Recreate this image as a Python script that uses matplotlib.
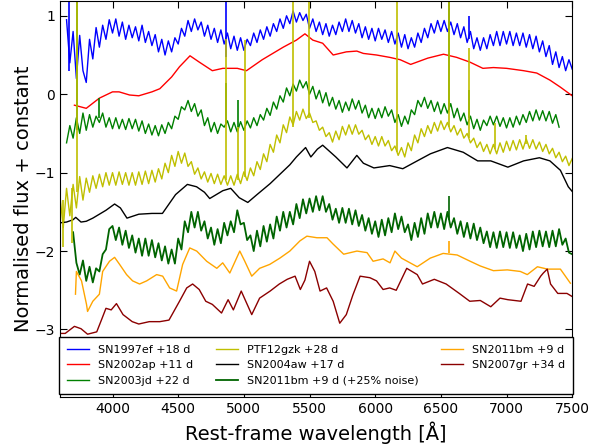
# Espectros de supernovas desplazados con una constante
import numpy as np
import matplotlib
matplotlib.use("Agg")
import matplotlib.pyplot as plt

# SN1997ef +18 d (malla de 25 A)
wl_97ef = np.arange(3650, 7501, 25)
flux_97ef = [0.95, 0.40, 0.80, 0.20, 0.75, 0.30, 0.15, 0.70, 0.45, 0.85,
             0.60, 0.88, 0.70, 0.95, 0.78, 0.96, 0.74, 0.92, 0.70, 0.88,
             0.72, 0.86, 0.68, 0.88, 0.66, 0.80, 0.62, 0.76, 0.54, 0.70,
             0.50, 0.68, 0.54, 0.72, 0.64, 0.84, 0.74, 0.94, 0.80, 0.96,
             0.82, 0.92, 0.74, 0.88, 0.70, 0.84, 0.66, 0.82, 0.64, 0.78,
             0.58, 0.74, 0.56, 0.72, 0.56, 0.70, 0.62, 0.78, 0.66, 0.82,
             0.70, 0.86, 0.74, 0.90, 0.80, 0.96, 0.84, 1.00, 0.90, 1.06,
             0.92, 1.04, 0.94, 1.02, 0.84, 0.96, 0.80, 0.92, 0.76, 0.90,
             0.74, 0.88, 0.76, 0.92, 0.80, 0.96, 0.80, 0.94, 0.78, 0.90,
             0.72, 0.86, 0.70, 0.84, 0.68, 0.84, 0.70, 0.82, 0.66, 0.80,
             0.64, 0.78, 0.60, 0.76, 0.58, 0.72, 0.60, 0.78, 0.66, 0.84,
             0.72, 0.90, 0.78, 0.94, 0.80, 0.94, 0.80, 0.92, 0.76, 0.90,
             0.72, 0.86, 0.66, 0.80, 0.58, 0.72, 0.56, 0.72, 0.58, 0.76,
             0.62, 0.80, 0.62, 0.80, 0.64, 0.80, 0.62, 0.78, 0.62, 0.78,
             0.60, 0.76, 0.58, 0.74, 0.54, 0.68, 0.48, 0.62, 0.38, 0.54,
             0.34, 0.48, 0.30, 0.44, 0.32]
lines_97ef = [3665, 4861, 6563, 6717]
lines_97ef_lo = [0.30, 0.47, 0.85, 0.70]
lines_97ef_hi = [1.30, 1.30, 1.30, 1.00]

# SN2002ap +11 d
wl_02ap = [3710, 3800, 3900, 4000, 4050, 4130, 4200, 4300, 4360, 4450,
           4510, 4590, 4660, 4760, 4840, 4950, 5020, 5140, 5300, 5400,
           5465, 5525, 5600, 5680, 5780, 5860, 5910, 6010, 6110, 6190,
           6270, 6400, 6520, 6620, 6720, 6820, 6900, 7000, 7130, 7230,
           7330, 7410, 7500]
flux_02ap = [-0.14, -0.18, -0.05, 0.03, 0.03, -0.01, -0.02, 0.03, 0.07, 0.22,
             0.35, 0.49, 0.41, 0.30, 0.33, 0.33, 0.30, 0.44, 0.60, 0.69,
             0.77, 0.69, 0.65, 0.50, 0.54, 0.55, 0.52, 0.50, 0.47, 0.44,
             0.38, 0.46, 0.51, 0.47, 0.41, 0.33, 0.34, 0.33, 0.30, 0.27,
             0.18, 0.09, -0.02]

# SN2003jd +22 d
wl_03jd = np.arange(3650, 7401, 25)
flux_03jd = [-0.62, -0.40, -0.56, -0.30, -0.50, -0.24, -0.46, -0.26, -0.42, -0.28,
             -0.36, -0.24, -0.42, -0.30, -0.44, -0.30, -0.44, -0.32, -0.45, -0.31,
             -0.44, -0.32, -0.47, -0.34, -0.50, -0.38, -0.52, -0.40, -0.53, -0.39,
             -0.50, -0.36, -0.44, -0.28, -0.32, -0.16, -0.20, -0.08, -0.22, -0.12,
             -0.28, -0.20, -0.40, -0.30, -0.48, -0.36, -0.50, -0.38, -0.42, -0.34,
             -0.48, -0.36, -0.48, -0.35, -0.46, -0.34, -0.43, -0.30, -0.40, -0.26,
             -0.33, -0.18, -0.27, -0.10, -0.19, -0.02, -0.10, 0.08, -0.02, 0.13,
             0.04, 0.18, 0.08, 0.16, 0.00, 0.10, -0.06, 0.05, -0.11, 0.02,
             -0.15, -0.04, -0.19, -0.08, -0.23, -0.10, -0.21, -0.06, -0.19, -0.08,
             -0.24, -0.14, -0.30, -0.18, -0.31, -0.18, -0.30, -0.16, -0.28, -0.20,
             -0.36, -0.26, -0.41, -0.28, -0.38, -0.20, -0.26, -0.08, -0.16, -0.04,
             -0.18, -0.08, -0.22, -0.10, -0.25, -0.12, -0.24, -0.12, -0.30, -0.18,
             -0.34, -0.24, -0.39, -0.28, -0.44, -0.32, -0.46, -0.33, -0.40, -0.28,
             -0.39, -0.28, -0.41, -0.30, -0.43, -0.30, -0.42, -0.28, -0.39, -0.26,
             -0.36, -0.22, -0.34, -0.20, -0.33, -0.21, -0.34, -0.22, -0.37, -0.26,
             -0.42]
lines_03jd = [3727, 3900, 4861, 4959, 6563, 6717]
lines_03jd_lo = [-0.45, -0.30, -0.38, -0.42, -0.20, -0.30]
lines_03jd_hi = [1.30, -0.05, 0.14, -0.08, 1.30, 0.05]

# PTF12gzk +28 d
wl_12gzk = np.arange(3600, 7501, 25)
flux_12gzk = [-1.30, -1.70, -1.20, -1.55, -1.15, -1.45, -1.05, -1.35, -1.07, -1.25,
              -1.04, -1.20, -1.02, -1.18, -1.00, -1.16, -1.00, -1.16, -0.99, -1.15,
              -1.00, -1.16, -1.00, -1.16, -0.99, -1.15, -0.98, -1.14, -0.97, -1.12,
              -0.95, -1.08, -0.88, -1.00, -0.78, -0.92, -0.73, -0.88, -0.75, -0.92,
              -0.86, -1.02, -0.94, -1.08, -0.99, -1.12, -1.01, -1.14, -1.02, -1.15,
              -1.04, -1.16, -1.04, -1.16, -1.02, -1.14, -0.99, -1.10, -0.94, -1.04,
              -0.86, -0.96, -0.76, -0.86, -0.64, -0.74, -0.52, -0.62, -0.39, -0.49,
              -0.29, -0.39, -0.22, -0.33, -0.19, -0.31, -0.24, -0.36, -0.34, -0.46,
              -0.42, -0.54, -0.49, -0.61, -0.47, -0.58, -0.41, -0.52, -0.39, -0.51,
              -0.39, -0.51, -0.46, -0.58, -0.52, -0.64, -0.54, -0.66, -0.54, -0.66,
              -0.59, -0.72, -0.66, -0.78, -0.68, -0.80, -0.62, -0.72, -0.52, -0.62,
              -0.44, -0.54, -0.40, -0.50, -0.36, -0.47, -0.34, -0.45, -0.36, -0.48,
              -0.40, -0.52, -0.44, -0.56, -0.50, -0.62, -0.56, -0.68, -0.61, -0.73,
              -0.64, -0.76, -0.64, -0.76, -0.62, -0.74, -0.60, -0.72, -0.59, -0.71,
              -0.58, -0.70, -0.57, -0.69, -0.58, -0.70, -0.61, -0.73, -0.64, -0.76,
              -0.69, -0.81, -0.74, -0.86, -0.79, -0.91, -0.82]
lines_12gzk = [3620, 3690, 3727, 4861, 4959, 5007, 5373, 5495, 6167, 6563,
               6716, 6914, 7150]
lines_12gzk_lo = [-1.95, -1.90, -1.25, -1.10, -1.10, -1.05, -0.42, -0.30, -0.74, -0.42,
                  -0.56, -0.70, -0.63]
lines_12gzk_hi = [-1.35, -1.20, 1.30, 0.70, -0.42, 0.69, 1.30, 1.30, 1.30, 1.30,
                  0.59, -0.37, -0.52]

# SN2004aw +17 d
wl_04aw = [3600, 3650, 3700, 3720, 3760, 3800, 3850, 3900, 3950, 4016,
           4060, 4110, 4200, 4300, 4380, 4480, 4570, 4640, 4700, 4740,
           4840, 4900, 4965, 5030, 5100, 5200, 5300, 5350, 5400, 5470,
           5510, 5560, 5600, 5700, 5785, 5860, 5910, 5990, 6110, 6210,
           6320, 6420, 6550, 6670, 6780, 6880, 7010, 7130, 7250, 7330,
           7410, 7470, 7500]
flux_04aw = [-1.64, -1.63, -1.60, -1.57, -1.63, -1.62, -1.58, -1.53, -1.48, -1.40,
             -1.45, -1.58, -1.53, -1.52, -1.52, -1.28, -1.15, -1.18, -1.25, -1.33,
             -1.23, -1.20, -1.32, -1.38, -1.28, -1.14, -0.98, -0.90, -0.80, -0.68,
             -0.80, -0.70, -0.65, -0.80, -0.94, -0.78, -0.88, -0.94, -0.91, -0.95,
             -0.85, -0.76, -0.68, -0.74, -0.85, -0.85, -0.93, -0.85, -0.81, -0.85,
             -0.97, -1.18, -1.24]

# SN2011bm +9 d con 25% de ruido
wl_11bm_n = np.arange(3700, 7501, 25)
flux_11bm_n = [-1.76, -2.15, -2.30, -2.12, -2.38, -2.20, -2.40, -2.22, -2.26, -2.04,
               -1.98, -1.72, -1.68, -1.86, -1.70, -1.92, -1.74, -1.96, -1.80, -2.02,
               -1.84, -2.06, -1.84, -2.06, -1.86, -2.08, -1.90, -2.12, -1.94, -2.16,
               -1.98, -2.16, -1.84, -1.98, -1.62, -1.76, -1.50, -1.70, -1.50, -1.74,
               -1.62, -1.84, -1.70, -1.92, -1.72, -1.90, -1.64, -1.80, -1.62, -1.76,
               -1.48, -1.66, -1.64, -1.86, -1.80, -2.00, -1.74, -1.94, -1.68, -1.88,
               -1.66, -1.84, -1.56, -1.74, -1.50, -1.70, -1.50, -1.66, -1.40, -1.58,
               -1.34, -1.52, -1.33, -1.50, -1.30, -1.48, -1.30, -1.50, -1.40, -1.60,
               -1.46, -1.64, -1.45, -1.64, -1.46, -1.66, -1.48, -1.68, -1.54, -1.74,
               -1.58, -1.78, -1.62, -1.82, -1.60, -1.80, -1.58, -1.76, -1.52, -1.72,
               -1.56, -1.76, -1.66, -1.86, -1.64, -1.82, -1.58, -1.78, -1.52, -1.70,
               -1.50, -1.70, -1.52, -1.72, -1.50, -1.70, -1.58, -1.78, -1.62, -1.82,
               -1.64, -1.84, -1.65, -1.86, -1.70, -1.90, -1.75, -1.95, -1.76, -1.96,
               -1.75, -1.95, -1.76, -1.96, -1.76, -1.96, -1.80, -2.00, -1.78, -1.98,
               -1.75, -1.95, -1.74, -1.94, -1.75, -1.95, -1.74, -1.94, -1.72, -1.92,
               -1.84, -2.02, -2.04]
lines_11bm_n = [6563]
lines_11bm_n_lo = [-1.60]
lines_11bm_n_hi = [-1.30]

# SN2011bm +9 d
wl_11bm = [3718, 3725, 3764, 3802, 3810, 3850, 3900, 3925, 3977, 4016,
           4054, 4107, 4153, 4206, 4260, 4336, 4382, 4435, 4488, 4534,
           4588, 4641, 4717, 4794, 4839, 4893, 4969, 5007, 5060, 5120,
           5197, 5274, 5350, 5427, 5480, 5556, 5633, 5679, 5760, 5861,
           5938, 5984, 6060, 6113, 6150, 6200, 6320, 6419, 6517, 6624,
           6723, 6800, 6900, 7006, 7105, 7158, 7235, 7311, 7410, 7486]
flux_11bm = [-2.55, -2.26, -2.38, -2.68, -2.77, -2.64, -2.55, -2.26, -2.13, -2.08,
             -2.17, -2.30, -2.38, -2.42, -2.38, -2.30, -2.32, -2.47, -2.51, -2.17,
             -1.96, -2.00, -2.13, -2.22, -2.15, -2.28, -2.00, -2.13, -2.32, -2.22,
             -2.17, -2.09, -2.00, -1.87, -1.81, -1.83, -1.83, -1.91, -2.04, -2.00,
             -2.02, -2.13, -2.10, -2.15, -2.00, -2.09, -2.20, -2.09, -2.03, -2.05,
             -2.13, -2.19, -2.25, -2.24, -2.26, -2.30, -2.20, -2.23, -2.23, -2.41]
lines_11bm = [6563]
lines_11bm_lo = [-2.03]
lines_11bm_hi = [-1.87]

# SN2007gr +34 d
wl_07gr = [3600, 3640, 3710, 3760, 3810, 3880, 3920, 3950, 3990, 4030,
           4080, 4150, 4200, 4280, 4360, 4430, 4510, 4565, 4610, 4660,
           4710, 4760, 4830, 4880, 4920, 4980, 5060, 5120, 5200, 5270,
           5330, 5390, 5430, 5465, 5500, 5540, 5580, 5630, 5680, 5730,
           5780, 5830, 5885, 5960, 6010, 6060, 6110, 6160, 6240, 6320,
           6360, 6450, 6540, 6640, 6720, 6800, 6880, 6950, 7010, 7110,
           7160, 7210, 7260, 7280, 7310, 7335, 7390, 7460, 7500]
flux_07gr = [-3.05, -3.05, -2.96, -2.99, -3.06, -3.03, -2.86, -2.73, -2.75, -2.67,
             -2.81, -2.90, -2.93, -2.90, -2.90, -2.88, -2.64, -2.47, -2.42, -2.49,
             -2.64, -2.68, -2.79, -2.62, -2.75, -2.51, -2.81, -2.60, -2.51, -2.42,
             -2.36, -2.32, -2.49, -2.37, -2.13, -2.26, -2.51, -2.47, -2.64, -2.92,
             -2.81, -2.56, -2.32, -2.34, -2.38, -2.49, -2.47, -2.50, -2.22, -2.30,
             -2.42, -2.36, -2.42, -2.54, -2.64, -2.63, -2.71, -2.60, -2.62, -2.64,
             -2.42, -2.45, -2.32, -2.28, -2.23, -2.42, -2.54, -2.54, -2.58]

labels = ["SN1997ef +18 d", "SN2002ap +11 d", "SN2003jd +22 d", "PTF12gzk +28 d",
          "SN2004aw +17 d", "SN2011bm +9 d (+25% noise)", "SN2011bm +9 d",
          "SN2007gr +34 d"]
colors = ["b", "r", "g", "y", "k", "darkgreen", "orange", "darkred"]
x_ticks = [4000, 4500, 5000, 5500, 6000, 6500, 7000, 7500]
y_ticks = [-3, -2, -1, 0, 1]


# Dibuja todos los espectros y guarda out.png
def generate_spectra_chart():
    series = [(wl_97ef, flux_97ef), (wl_02ap, flux_02ap), (wl_03jd, flux_03jd),
              (wl_12gzk, flux_12gzk), (wl_04aw, flux_04aw),
              (wl_11bm_n, flux_11bm_n), (wl_11bm, flux_11bm), (wl_07gr, flux_07gr)]
    widths = [1.0, 1.0, 1.0, 1.0, 1.0, 1.3, 1.0, 1.0]
    spikes = [(lines_97ef, lines_97ef_lo, lines_97ef_hi, "b"),
              (lines_03jd, lines_03jd_lo, lines_03jd_hi, "g"),
              (lines_12gzk, lines_12gzk_lo, lines_12gzk_hi, "y"),
              (lines_11bm_n, lines_11bm_n_lo, lines_11bm_n_hi, "darkgreen"),
              (lines_11bm, lines_11bm_lo, lines_11bm_hi, "orange")]

    fig = plt.figure(figsize=(6.12, 4.46), dpi=100)
    ax = fig.add_axes([0.098, 0.110, 0.837, 0.888])

    for (wl, flux), color, label, lw in zip(series, colors, labels, widths):
        ax.plot(wl, flux, color=color, lw=lw, label=label)
    for wl, lo, hi, color in spikes:
        ax.vlines(wl, lo, hi, color=color, lw=1.2)

    ax.set_xlim(3600, 7500)
    ax.set_ylim(-3.86, 1.19)
    ax.set_xticks(x_ticks)
    ax.set_yticks(y_ticks)
    ax.tick_params(direction="in", top=True, right=True, length=5, labelsize=10)
    ax.set_xlabel("Rest-frame wavelength [Å]", fontsize=14)
    ax.set_ylabel("Normalised flux + constant", fontsize=14, labelpad=1)
    ax.legend(loc="lower center", ncol=3, fontsize=8, fancybox=False,
              framealpha=1, edgecolor="black", borderaxespad=0.3,
              borderpad=0.7)

    fig.savefig("out.png", dpi=100)
    plt.close()


generate_spectra_chart()
